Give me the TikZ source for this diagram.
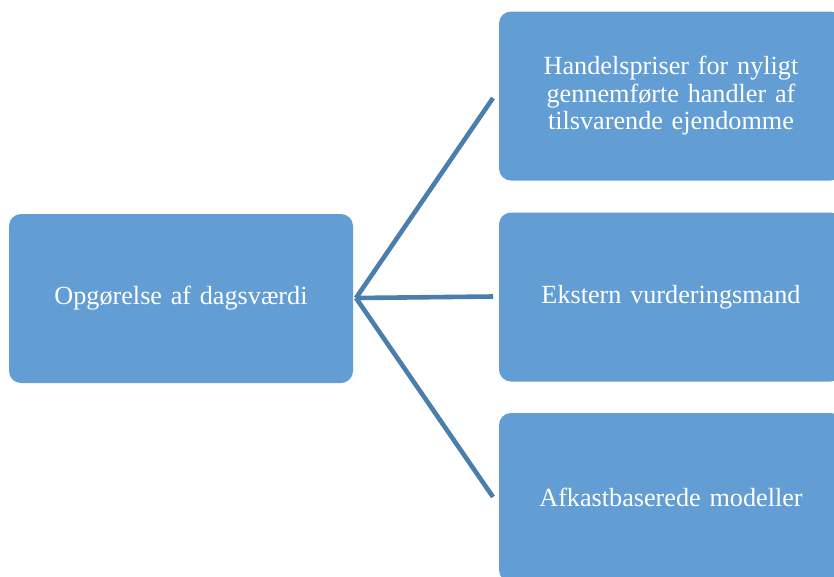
\documentclass[tikz,border=0pt]{standalone}
\usepackage{fontspec}
\setmainfont[WordSpace=0.8]{Liberation Serif}
\definecolor{boxfill}{HTML}{629ED3}
\definecolor{linecol}{HTML}{4A7EAC}
\begin{document}
\begin{tikzpicture}[x=1pt,y=-1pt,
  box/.style={fill=boxfill, draw=none, rounded corners=12pt, minimum width=344pt, minimum height=169pt,
    text=white, align=center, font=\fontsize{26.2}{27.5}\selectfont, inner sep=0pt, text width=320pt},
  conn/.style={draw=linecol, line width=4.6pt}]
\useasboundingbox (0,0) rectangle (834,576);
\clip (0,0) rectangle (834,576);
\node[box] (src) at (181,298.5) {Opgørelse af dagsværdi};
\node[box] (t1) at (671,96) {Handelspriser for nyligt\\gennemførte handler af\\tilsvarende ejendomme};
\node[box] (t2) at (671,297) {Ekstern vurderingsmand};
\node[box] (t3) at (671,497.5) {Afkastbaserede modeller};
\coordinate (hub) at (356,298);
\coordinate (e1) at (493,98);
\coordinate (e2) at (493,296.5);
\coordinate (e3) at (493,497);
\draw[conn] (hub) -- (e1);
\draw[conn] (hub) -- (e2);
\draw[conn] (hub) -- (e3);
\end{tikzpicture}
\end{document}
